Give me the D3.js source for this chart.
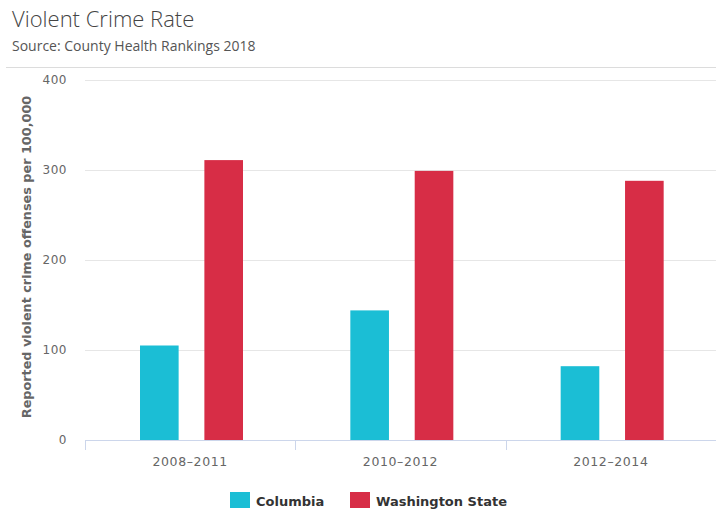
<!DOCTYPE html>
<html>
<head>
<meta charset="utf-8">
<script src="https://cdn.jsdelivr.net/npm/d3@7"></script>
<style>
  body { margin: 0; background: #fff; }
  svg { display: block; }
</style>
</head>
<body>
<div id="chart"></div>
<script>
var periods = ["2008–2011", "2010–2012", "2012–2014"];
var seriesNames = ["Columbia", "Washington State"];
var columbia = [105, 144, 82];
var washington = [311, 299, 288];
var yTicks = [0, 100, 200, 300, 400];
var colors = ["#1bbed5", "#d72d46"];

var width = 716, height = 510;
var margin = {top: 80, right: 0, bottom: 70, left: 85};
var plotW = width - margin.left - margin.right,
    plotH = height - margin.top - margin.bottom;

var svg = d3.select("#chart").append("svg")
  .attr("width", width)
  .attr("height", height);

// title block
svg.append("text")
  .attr("x", 12).attr("y", 27)
  .style("font-family", "Open Sans").style("font-weight", 300)
  .style("font-size", "22px").style("fill", "#444")
  .text("Violent Crime Rate");
svg.append("text")
  .attr("x", 12).attr("y", 51)
  .style("font-family", "Open Sans")
  .style("font-size", "14px").style("fill", "#555")
  .text("Source: County Health Rankings 2018");
svg.append("line")
  .attr("x1", 6).attr("x2", width).attr("y1", 67.5).attr("y2", 67.5)
  .style("stroke", "#dcdcdc").style("stroke-width", 1.2);

var g = svg.append("g")
  .attr("transform", "translate(" + margin.left + "," + margin.top + ")");

var x = d3.scaleBand().domain(periods).range([0, plotW]);
var y = d3.scaleLinear().domain([0, 400]).range([plotH, 0]);
var inner = d3.scaleBand().domain(seriesNames)
  .range([55, 158]).paddingInner(0.4);

// gridlines
g.selectAll(".grid").data(yTicks.filter(function(d) { return d > 0; }))
  .enter().append("line")
  .attr("x1", 0).attr("x2", plotW)
  .attr("y1", function(d) { return Math.round(y(d)) + 0.5; })
  .attr("y2", function(d) { return Math.round(y(d)) + 0.5; })
  .style("stroke", "#e6e6e6");

// y labels
g.selectAll(".ylab").data(yTicks)
  .enter().append("text")
  .attr("x", -18).attr("y", function(d) { return y(d) + 4; })
  .attr("text-anchor", "end")
  .style("font-family", "DejaVu Sans").style("font-size", "12px")
  .style("letter-spacing", "0.5px")
  .style("fill", "#666")
  .text(function(d) { return d; });

// bars
var rows = periods.map(function(p, i) {
  return [
    {period: p, name: seriesNames[0], value: columbia[i], color: colors[0]},
    {period: p, name: seriesNames[1], value: washington[i], color: colors[1]}
  ];
});
g.selectAll(".grp").data(rows).enter().append("g")
  .attr("transform", function(d) { return "translate(" + x(d[0].period) + ",0)"; })
  .selectAll("rect").data(function(d) { return d; })
  .enter().append("rect")
  .attr("x", function(d) { return inner(d.name); })
  .attr("width", inner.bandwidth())
  .attr("y", function(d) { return y(d.value); })
  .attr("height", function(d) { return plotH - y(d.value); })
  .style("fill", function(d) { return d.color; });

// x axis
g.append("line")
  .attr("x1", 0).attr("x2", plotW).attr("y1", plotH + 0.5).attr("y2", plotH + 0.5)
  .style("stroke", "#ccd6eb");
g.selectAll(".xtick").data(periods).enter().append("line")
  .attr("x1", function(d) { return Math.round(x(d)) + 0.5; })
  .attr("x2", function(d) { return Math.round(x(d)) + 0.5; })
  .attr("y1", plotH).attr("y2", plotH + 10)
  .style("stroke", "#ccd6eb");
g.selectAll(".xlab").data(periods).enter().append("text")
  .attr("x", function(d) { return x(d) + x.bandwidth() / 2; })
  .attr("y", plotH + 26)
  .attr("text-anchor", "middle")
  .style("font-family", "DejaVu Sans").style("font-size", "12.5px")
  .style("letter-spacing", "0.6px")
  .style("fill", "#666")
  .text(function(d) { return d; });

// y axis title
svg.append("text")
  .attr("transform", "translate(31,257) rotate(-90)")
  .attr("text-anchor", "middle")
  .style("font-family", "DejaVu Sans").style("font-weight", "bold")
  .style("font-size", "12.8px").style("fill", "#666")
  .text("Reported violent crime offenses per 100,000");

// legend
var legendX = [230, 350];
var lg = svg.selectAll(".leg").data(seriesNames).enter().append("g")
  .attr("transform", function(d, i) { return "translate(" + legendX[i] + ",492)"; });
lg.append("rect")
  .attr("width", 20).attr("height", 16)
  .style("fill", function(d, i) { return colors[i]; });
lg.append("text")
  .attr("x", 26).attr("y", 14)
  .style("font-family", "DejaVu Sans").style("font-weight", "bold")
  .style("font-size", "13px").style("fill", "#333")
  .text(function(d) { return d; });
</script>
</body>
</html>
